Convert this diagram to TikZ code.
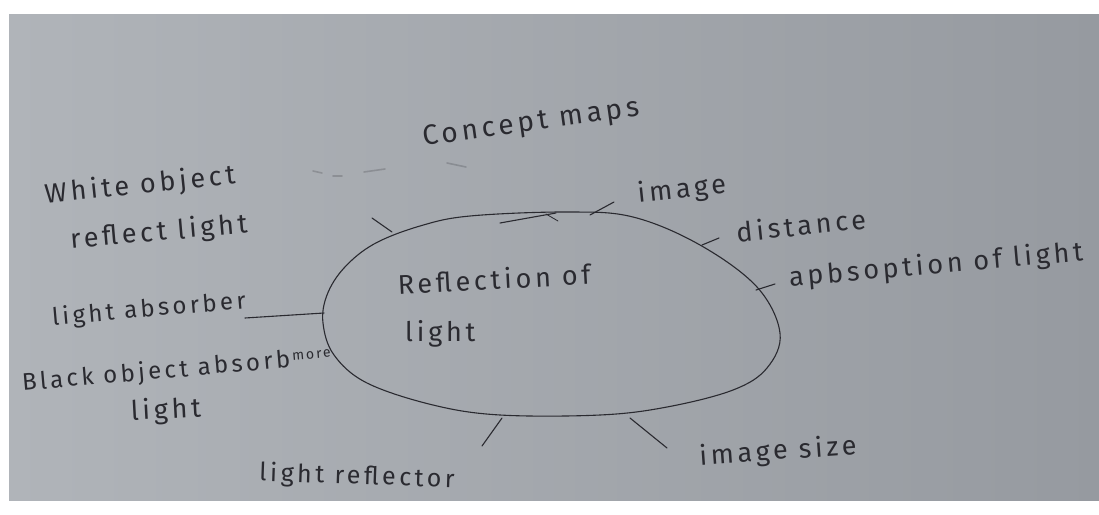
\documentclass[tikz,border=0pt]{standalone}
\usepackage{fontspec}
\setmainfont{Fira Sans}[LetterSpace=14]
\begin{document}
\begin{tikzpicture}[x=1pt,y=-1pt,
  hand/.style={text=ink, inner sep=0pt, font=\fontsize{27}{29}\selectfont},
  pen/.style={draw=ink, line width=1.1pt, line cap=round},
  faint/.style={draw=ink, line width=1.6pt, line cap=round, opacity=0.22}]
\definecolor{ink}{RGB}{42,42,48}
\definecolor{paperL}{RGB}{176,180,185}
\definecolor{paperR}{RGB}{150,154,160}

% photo frame and sheet of paper
\useasboundingbox (0,0) rectangle (1099,514);
\fill[white] (0,0) rectangle (1099,514);
\shade[left color=paperL, right color=paperR] (9,14) rectangle (1099,500);

% title
\node[hand, rotate=8, font=\fontsize{28}{30}\selectfont] (title) at (531,124) {Concept maps};

% central idea
\draw[pen] plot[smooth cycle, tension=0.6] coordinates {
  (567,212) (633,217) (700,245) (757,287) (780,333) (767,368)
  (733,390) (667,407) (600,415) (500,415) (433,405) (367,383)
  (334,355) (323,323) (327,295) (344,268) (374,244) (420,226) (470,216)};
\draw[pen] (500,223) -- (556,213);
\draw[pen, line width=0.8pt] (546,214) -- (558,221);
\node[hand, rotate=3] (core1) at (494,279) {Reflection of};
\node[hand, anchor=west] (core2) at (405,334) {light};

% surrounding ideas
\node[hand, rotate=6] (white1) at (140,186) {White object};
\node[hand, rotate=5] (white2) at (159,233) {reflect light};
\node[hand, rotate=5, font=\fontsize{24}{26}\selectfont] (absorber) at (149,310) {light absorber};
\node[hand, rotate=5, anchor=west, font=\fontsize{24}{26}\selectfont] (black1) at (22,384) {Black object absorb};
\node[hand, rotate=5, font=\fontsize{14}{16}\selectfont, anchor=west] (more) at (292,357) {more};
\node[hand, rotate=3] (black2) at (166,411) {light};
\node[hand, rotate=6] (image) at (682,190) {image};
\node[hand, rotate=6] (distance) at (801,225) {distance};
\node[hand, rotate=5] (absorption) at (936,266) {apbsoption of light};
\node[hand, rotate=4] (imgsize) at (778,452) {image size};
\node[hand, rotate=-2, font=\fontsize{25}{27}\selectfont] (reflector) at (357,477) {light reflector};

% ticks linking ideas to the central oval
\coordinate (tWa) at (372,218); \coordinate (tWb) at (392,232);
\coordinate (tIa) at (590,215); \coordinate (tIb) at (614,202);
\coordinate (tDa) at (702,245); \coordinate (tDb) at (719,238);
\coordinate (tAa) at (756,290); \coordinate (tAb) at (775,284);
\coordinate (tLa) at (245,318); \coordinate (tLb) at (324,313);
\coordinate (tRa) at (502,418); \coordinate (tRb) at (482,446);
\coordinate (tSa) at (630,418); \coordinate (tSb) at (667,448);
\draw[pen] (tWa) -- (tWb);
\draw[pen] (tIa) -- (tIb);
\draw[pen] (tDa) -- (tDb);
\draw[pen] (tAa) -- (tAb);
\draw[pen] (tLa) -- (tLb);
\draw[pen] (tRa) -- (tRb);
\draw[pen] (tSa) -- (tSb);

% stray pencil marks on the sheet
\coordinate (s1a) at (313,171); \coordinate (s1b) at (322,173);
\coordinate (s2a) at (333,176); \coordinate (s2b) at (342,176);
\coordinate (s3a) at (364,172); \coordinate (s3b) at (385,169);
\coordinate (s4a) at (447,163); \coordinate (s4b) at (466,167);
\draw[faint] (s1a) -- (s1b);
\draw[faint] (s2a) -- (s2b);
\draw[faint] (s3a) -- (s3b);
\draw[faint] (s4a) -- (s4b);
\end{tikzpicture}
\end{document}
